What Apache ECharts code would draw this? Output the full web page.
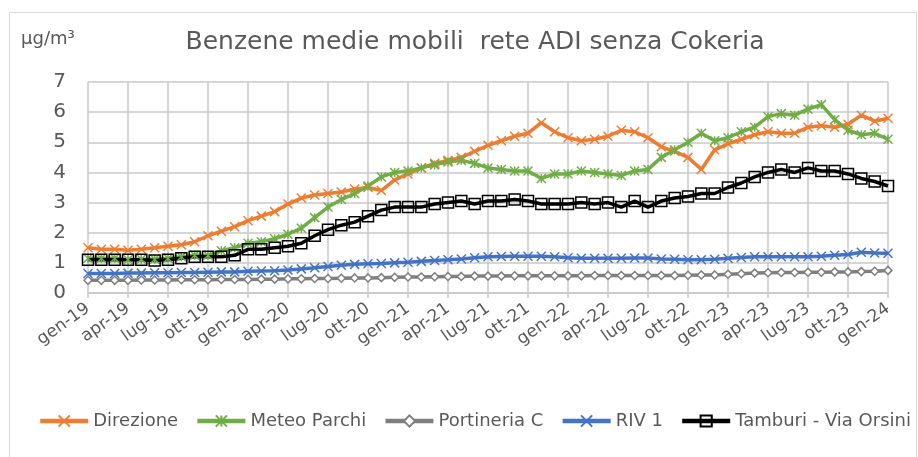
<!DOCTYPE html>
<html>
<head>
<meta charset="utf-8">
<script src="https://cdn.jsdelivr.net/npm/echarts@6/dist/echarts.min.js"></script>
<style>
  html, body { margin: 0; padding: 0; background: #fff; }
  #chart { width: 918px; height: 457px; }
</style>
</head>
<body>
<div id="chart"></div>
<script>
  // mesi in italiano, da gen-19 a gen-24
  const months = ['gen', 'feb', 'mar', 'apr', 'mag', 'giu', 'lug', 'ago', 'set', 'ott', 'nov', 'dic'];
  const years = ['19', '20', '21', '22', '23', '24'];
  const categories = [];
  years.forEach((y) => {
    months.forEach((m) => {
      if (categories.length < 61) categories.push(m + '-' + y);
    });
  });

  const direzione = [
    1.5, 1.45, 1.45, 1.42, 1.45, 1.5, 1.55, 1.6, 1.7, 1.9, 2.05, 2.2,
    2.4, 2.55, 2.7, 2.95, 3.15, 3.25, 3.3, 3.35, 3.45, 3.5, 3.4, 3.75,
    3.95, 4.15, 4.3, 4.4, 4.5, 4.7, 4.9, 5.05, 5.2, 5.3, 5.65, 5.35,
    5.15, 5.05, 5.1, 5.2, 5.4, 5.35, 5.15, 4.85, 4.7, 4.5, 4.1, 4.75,
    4.95, 5.1, 5.25, 5.35, 5.3, 5.3, 5.5, 5.55, 5.5, 5.6, 5.9, 5.7,
    5.8
  ];
  const meteoParchi = [
    1.15, 1.15, 1.15, 1.1, 1.12, 1.12, 1.15, 1.2, 1.25, 1.25, 1.4, 1.5,
    1.65, 1.7, 1.8, 1.95, 2.15, 2.5, 2.85, 3.1, 3.3, 3.55, 3.85, 4.0,
    4.05, 4.15, 4.25, 4.35, 4.4, 4.3, 4.15, 4.1, 4.05, 4.05, 3.8, 3.95,
    3.95, 4.05, 4.0, 3.95, 3.9, 4.05, 4.1, 4.5, 4.75, 5.0, 5.3, 5.05,
    5.15, 5.35, 5.5, 5.85, 5.95, 5.9, 6.1, 6.25, 5.75, 5.4, 5.25, 5.3,
    5.1
  ];
  const portineriaC = [
    0.42, 0.42, 0.42, 0.42, 0.43, 0.43, 0.43, 0.44, 0.44, 0.44, 0.45, 0.45,
    0.45, 0.46, 0.46, 0.47, 0.47, 0.48, 0.48, 0.49, 0.5, 0.5, 0.51, 0.52,
    0.53, 0.53, 0.54, 0.55, 0.55, 0.56, 0.56, 0.56, 0.57, 0.57, 0.57, 0.57,
    0.57, 0.57, 0.58, 0.58, 0.58, 0.58, 0.58, 0.58, 0.58, 0.59, 0.6, 0.6,
    0.62, 0.64, 0.66, 0.67, 0.68, 0.68, 0.69, 0.69, 0.7, 0.7, 0.71, 0.72,
    0.75
  ];
  const riv1 = [
    0.65, 0.65, 0.65, 0.66, 0.66, 0.67, 0.67, 0.68, 0.68, 0.69, 0.7, 0.7,
    0.72, 0.73, 0.74, 0.76, 0.8, 0.84, 0.88, 0.92, 0.95, 0.97, 0.98, 1.0,
    1.02, 1.05, 1.08, 1.1, 1.13, 1.17, 1.2, 1.21, 1.22, 1.22, 1.22, 1.2,
    1.17, 1.15, 1.15, 1.15, 1.15, 1.16, 1.16, 1.13, 1.12, 1.1, 1.1, 1.12,
    1.15, 1.18, 1.2, 1.2, 1.2, 1.2, 1.2, 1.22, 1.25, 1.28, 1.35, 1.33,
    1.32
  ];
  const tamburi = [
    1.1, 1.1, 1.1, 1.1, 1.1, 1.08, 1.1, 1.15, 1.2, 1.2, 1.2, 1.25,
    1.45, 1.45, 1.5, 1.55, 1.65, 1.9, 2.1, 2.25, 2.35, 2.55, 2.75, 2.85,
    2.85, 2.85, 2.95, 3.0, 3.05, 2.95, 3.05, 3.05, 3.1, 3.05, 2.95, 2.95,
    2.95, 3.0, 2.95, 3.0, 2.85, 3.05, 2.85, 3.05, 3.15, 3.2, 3.3, 3.3,
    3.5, 3.65, 3.85, 4.0, 4.1, 4.0, 4.15, 4.05, 4.05, 3.95, 3.8, 3.7,
    3.55
  ];

  const FONT = 'DejaVu Sans';
  const TEXT = '#595959';
  const GRID = '#C9C9C9';

  const crossPath = 'path://M0,0L10,10M10,0L0,10';
  const starPath = 'path://M0,0L10,10M10,0L0,10M5,0L5,10';

  function lineSeries(name, data, color, symbol, size, fill) {
    return {
      name: name,
      type: 'line',
      data: data,
      symbol: symbol,
      symbolSize: size,
      showAllSymbol: true,
      lineStyle: { color: color, width: 3.5 },
      itemStyle: { color: fill, borderColor: color, borderWidth: 1.5 },
    };
  }

  const chart = echarts.init(document.getElementById('chart'));
  chart.setOption({
    animation: false,
    backgroundColor: '#fff',
    title: {
      text: 'Benzene medie mobili  rete ADI senza Cokeria',
      left: 470,
      top: 25,
      textAlign: 'center',
      textStyle: { fontFamily: FONT, fontSize: 25, fontWeight: 'normal', color: TEXT },
    },
    graphic: [
      {
        type: 'rect',
        shape: { x: 9.5, y: 12.5, width: 907, height: 470 },
        style: { fill: 'none', stroke: '#D9D9D9', lineWidth: 1 },
        silent: true,
      },
      {
        type: 'text',
        left: 21,
        top: 30,
        style: { text: 'µg/m³', fontFamily: FONT, fontSize: 18, fill: TEXT },
      },
    ],
    legend: {
      top: 407,
      left: 33,
      width: 900,
      itemWidth: 48,
      itemHeight: 14,
      itemGap: 17,
      lineStyle: { width: 4.5 },
      textStyle: { fontFamily: FONT, fontSize: 18, color: TEXT },
      data: ['Direzione', 'Meteo Parchi', 'Portineria C', 'RIV 1', 'Tamburi - Via Orsini'],
    },
    grid: {
      left: 88,
      right: 30,
      top: 82,
      bottom: 164,
      containLabel: false,
    },
    xAxis: {
      type: 'category',
      data: categories,
      boundaryGap: false,
      axisLine: { show: true, lineStyle: { color: GRID, width: 1.5 } },
      axisTick: { show: true, interval: 2, length: 5, lineStyle: { color: GRID, width: 1.5 } },
      axisLabel: {
        interval: 2,
        rotate: 35,
        margin: 14,
        fontFamily: FONT,
        fontSize: 17,
        color: TEXT,
      },
      splitLine: { show: true, interval: 2, lineStyle: { color: GRID, width: 1.5 } },
    },
    yAxis: {
      type: 'value',
      min: 0,
      max: 7,
      interval: 1,
      axisLine: { show: false },
      axisTick: { show: false },
      axisLabel: { margin: 22, fontFamily: FONT, fontSize: 20, color: TEXT },
      splitLine: { show: true, lineStyle: { color: GRID, width: 1.5 } },
    },
    series: [
      lineSeries('Direzione', direzione, '#ED7D31', crossPath, 9, '#ED7D31'),
      lineSeries('Meteo Parchi', meteoParchi, '#70AD47', starPath, 9, '#70AD47'),
      lineSeries('Portineria C', portineriaC, '#7F7F7F', 'diamond', 8, '#fff'),
      lineSeries('RIV 1', riv1, '#4472C4', crossPath, 9, '#4472C4'),
      lineSeries('Tamburi - Via Orsini', tamburi, '#000000', 'rect', 11, 'transparent'),
    ],
  });
</script>
</body>
</html>
